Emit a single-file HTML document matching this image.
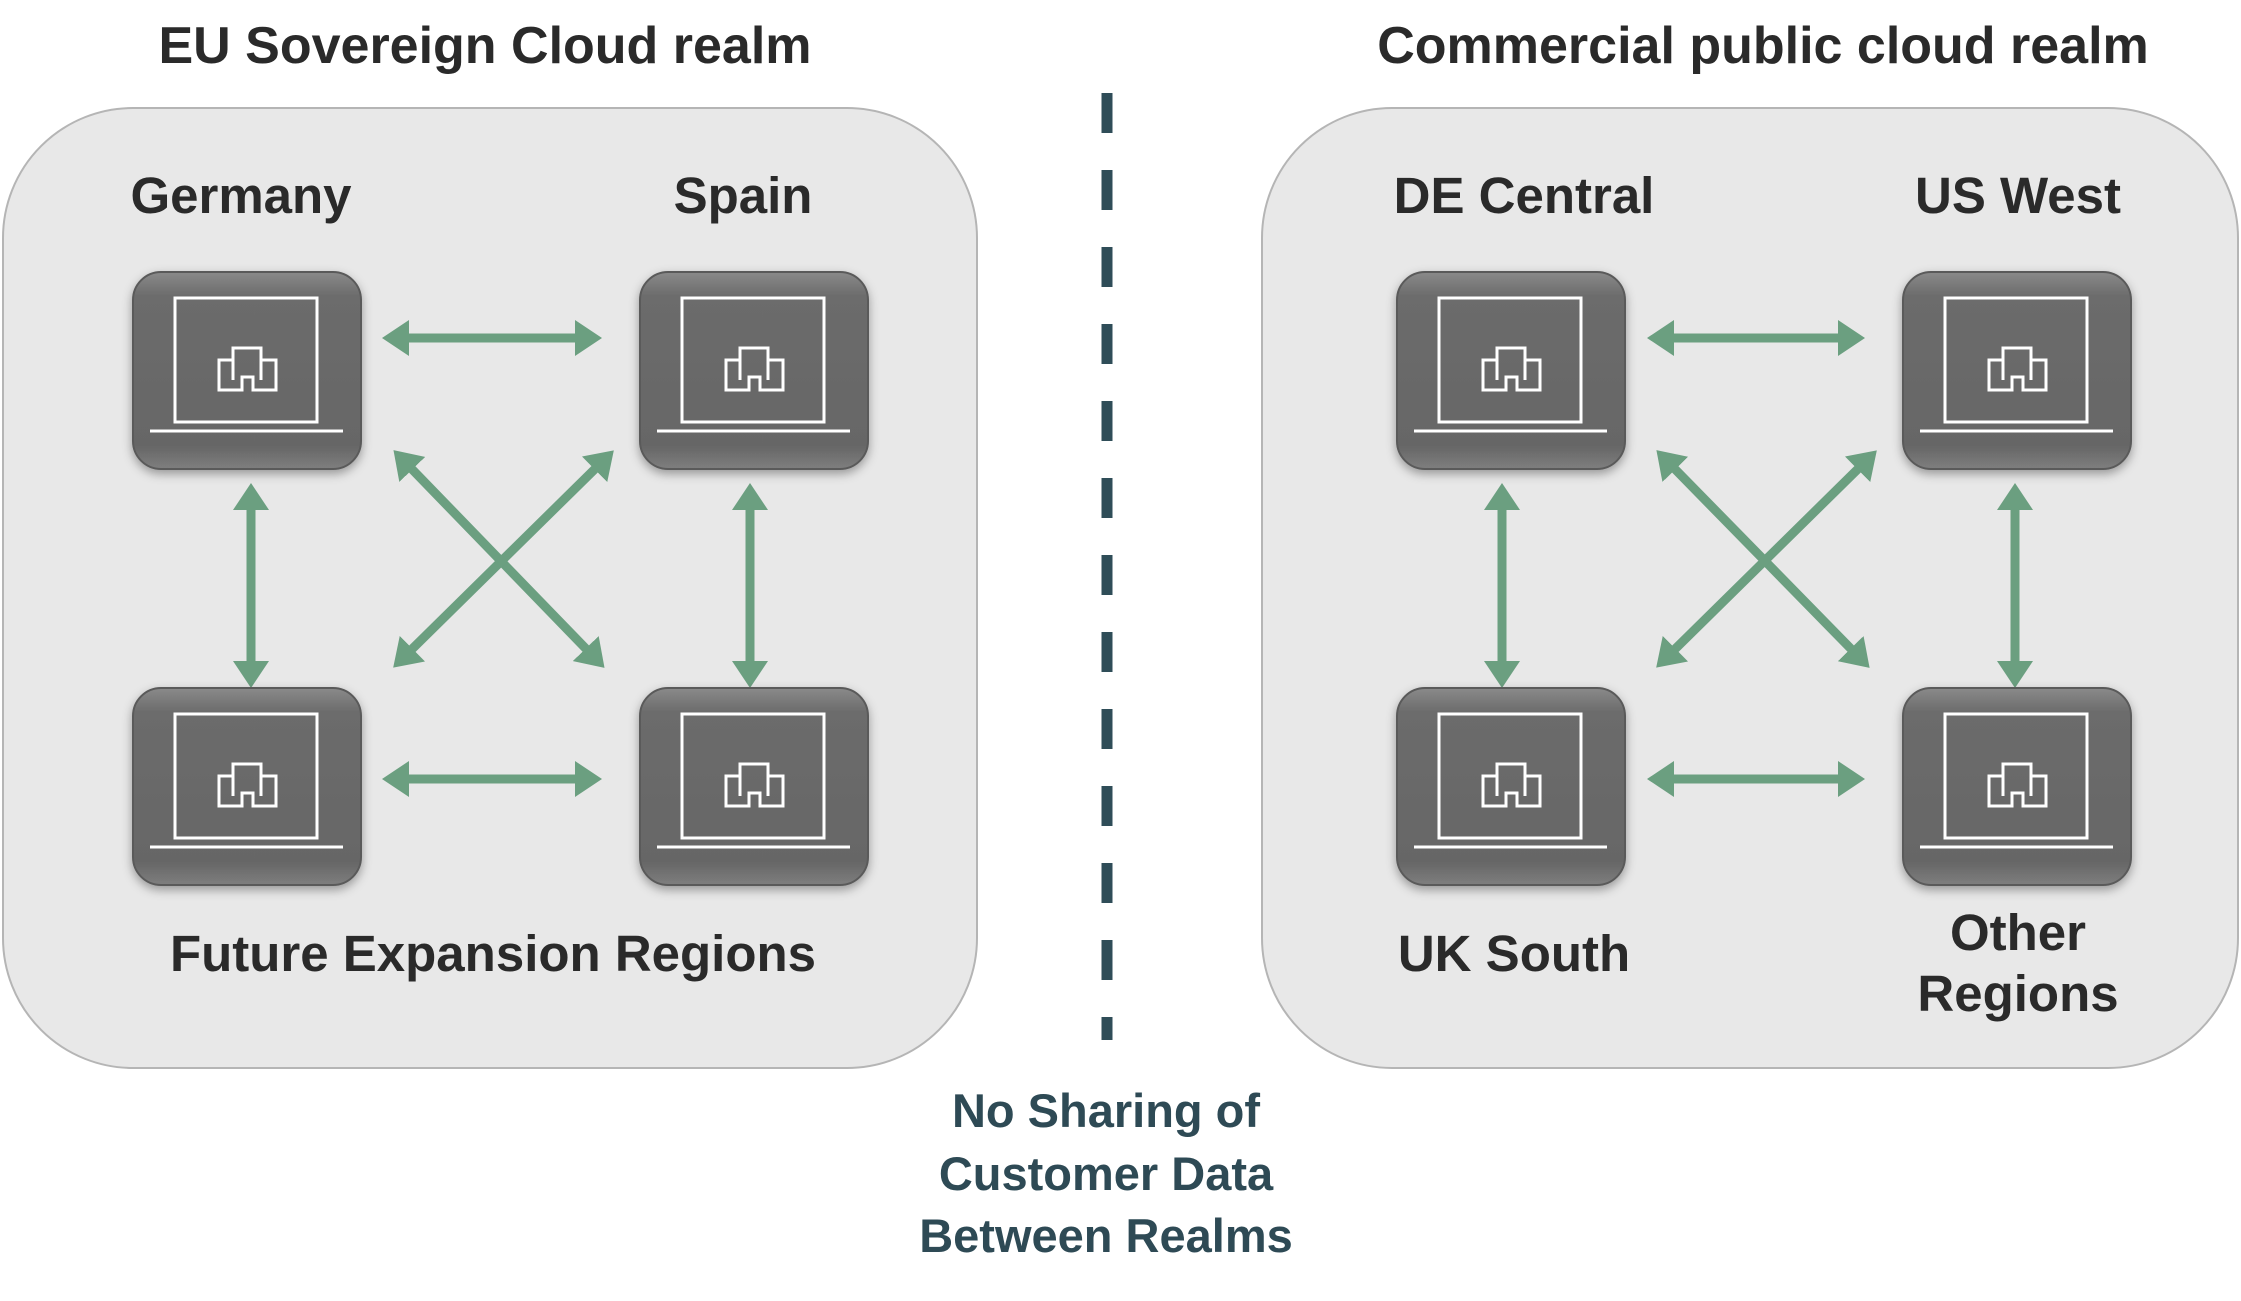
<!DOCTYPE html>
<html><head><meta charset="utf-8"><style>
html,body{margin:0;padding:0;background:#fff;}
svg{display:block;}
text{font-family:"Liberation Sans",sans-serif;font-weight:bold;}
</style></head><body>
<svg width="2241" height="1301" viewBox="0 0 2241 1301" xmlns="http://www.w3.org/2000/svg">
<defs>
<filter id="sh" x="-20%" y="-20%" width="140%" height="150%"><feDropShadow dx="0" dy="4" stdDeviation="5" flood-color="#000" flood-opacity="0.35"/></filter>
<linearGradient id="ng" x1="0" y1="0" x2="0" y2="1"><stop offset="0" stop-color="#8a8a8a"/><stop offset="0.12" stop-color="#6c6c6c"/><stop offset="0.88" stop-color="#666"/><stop offset="1" stop-color="#7e7e7e"/></linearGradient>
<g id="node">
<rect x="0" y="0" width="228" height="197" rx="28" fill="url(#ng)" stroke="#5a5a5a" stroke-width="2" filter="url(#sh)"/>
<rect x="42" y="26" width="142" height="124" fill="none" stroke="#fff" stroke-width="3"/>
<line x1="17" y1="159" x2="210" y2="159" stroke="#fff" stroke-width="3"/>
<path d="M86 88 H100 V76 H128 V88 H143 V118 H120 V105 H109 V118 H86 Z M100 88 V108 M128 88 V108" fill="none" stroke="#fff" stroke-width="3"/>
</g>
<marker id="ah" markerWidth="4" markerHeight="4" refX="1" refY="2" orient="auto-start-reverse" markerUnits="strokeWidth"><path d="M0 0 L3 2 L0 4 Z" fill="#6b9f80"/></marker>
</defs>
<text x="485" y="63" font-size="52" text-anchor="middle" fill="#2a2a2a">EU Sovereign Cloud realm</text>
<text x="1763" y="63" font-size="52" text-anchor="middle" fill="#2a2a2a">Commercial public cloud realm</text>
<rect x="3" y="108" width="974" height="960" rx="130" fill="#e8e8e8" stroke="#b5b5b5" stroke-width="2"/>
<rect x="1262" y="108" width="976" height="960" rx="130" fill="#e8e8e8" stroke="#b5b5b5" stroke-width="2"/>
<line x1="1107" y1="93" x2="1107" y2="1040" stroke="#2f4d58" stroke-width="11" stroke-dasharray="40 37"/>
<g stroke="#6b9f80" stroke-width="9" fill="none" marker-start="url(#ah)" marker-end="url(#ah)">
<line x1="400" y1="338" x2="584" y2="338"/>
<line x1="400" y1="779" x2="584" y2="779"/>
<line x1="251" y1="501" x2="251" y2="670"/>
<line x1="750" y1="501" x2="750" y2="670"/>
<line x1="406" y1="463" x2="592" y2="655"/>
<line x1="601" y1="463" x2="406" y2="655"/>
<line x1="1665" y1="338" x2="1847" y2="338"/>
<line x1="1665" y1="779" x2="1847" y2="779"/>
<line x1="1502" y1="501" x2="1502" y2="670"/>
<line x1="2015" y1="501" x2="2015" y2="670"/>
<line x1="1669" y1="463" x2="1857" y2="655"/>
<line x1="1864" y1="463" x2="1669" y2="655"/>
</g>
<use href="#node" x="133" y="272"/>
<use href="#node" x="640" y="272"/>
<use href="#node" x="133" y="688"/>
<use href="#node" x="640" y="688"/>
<use href="#node" x="1397" y="272"/>
<use href="#node" x="1903" y="272"/>
<use href="#node" x="1397" y="688"/>
<use href="#node" x="1903" y="688"/>
<g font-size="51" fill="#2a2a2a" text-anchor="middle">
<text x="241" y="213">Germany</text>
<text x="743" y="213">Spain</text>
<text x="493" y="971">Future Expansion Regions</text>
<text x="1524" y="213">DE Central</text>
<text x="2018" y="213">US West</text>
<text x="1514" y="971">UK South</text>
<text x="2018" y="950">Other</text>
<text x="2018" y="1011">Regions</text>
</g>
<g font-size="47" fill="#2e4a55" text-anchor="middle">
<text x="1106" y="1127">No Sharing of</text>
<text x="1106" y="1190">Customer Data</text>
<text x="1106" y="1252">Between Realms</text>
</g>
</svg>
</body></html>
